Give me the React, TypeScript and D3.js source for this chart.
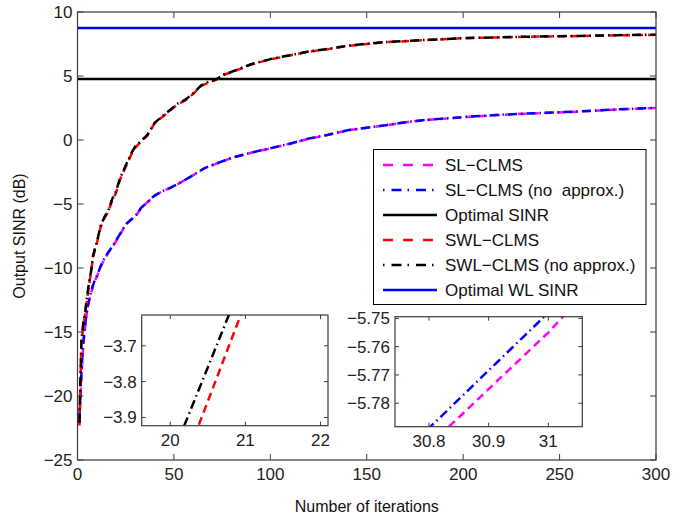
import React from 'react';
import * as d3 from 'd3';

const X_TICKS = [0, 50, 100, 150, 200, 250, 300];
const Y_TICKS = [-25, -20, -15, -10, -5, 0, 5, 10];

const SWL_X = [1,2,3,4,5,6,7,8,9,10,12,14,16,18,20,21,22,25,28,30,33,36,40,44,48,52,56,60,64,68,72,76,80,85,90,100,110,120,130,140,150,160,170,180,200,220,240,260,280,300];
const SWL_CLMS = [-22.3,-16.0,-14.5,-13.6,-12.4,-11.3,-10.4,-9.2,-8.6,-8.1,-6.8,-6.1,-5.6,-4.7,-4.13,-3.58,-3.1,-2.1,-1.1,-0.6,-0.1,0.3,1.3,1.8,2.3,2.8,3.1,3.6,4.2,4.5,4.7,5.1,5.3,5.6,5.9,6.3,6.6,6.9,7.1,7.35,7.5,7.65,7.72,7.8,7.95,8.02,8.08,8.12,8.18,8.22];
const SWL_CLMS_NA = [-22.1,-15.7,-14.3,-13.4,-12.2,-11.1,-10.3,-9.1,-8.5,-8.0,-6.7,-6.0,-5.5,-4.6,-4.02,-3.50,-3.0,-2.0,-1.0,-0.5,-0.05,0.35,1.35,1.85,2.35,2.85,3.15,3.65,4.25,4.55,4.75,5.12,5.33,5.62,5.92,6.32,6.62,6.92,7.12,7.36,7.52,7.66,7.73,7.81,7.96,8.03,8.09,8.13,8.19,8.23];

const SL_X = [1,2,3,4,5,6,7,8,9,10,12,14,16,18,20,22,25,28,30,31,33,36,40,44,48,52,56,60,66,72,80,90,100,110,120,130,140,150,160,170,180,200,220,240,260,280,300];
const SL_CLMS = [-22.0,-18.5,-16.0,-14.5,-13.3,-12.6,-12.0,-11.4,-11.0,-10.7,-9.9,-9.3,-8.8,-8.4,-7.9,-7.4,-6.6,-6.2,-5.955,-5.755,-5.3,-4.9,-4.35,-4.0,-3.75,-3.45,-3.1,-2.75,-2.2,-1.85,-1.4,-1.0,-0.65,-0.3,0.1,0.4,0.75,0.95,1.15,1.38,1.55,1.78,1.97,2.1,2.22,2.38,2.5];
const SL_CLMS_NA = [-21.7,-18.2,-15.8,-14.4,-13.2,-12.5,-11.9,-11.35,-10.95,-10.65,-9.85,-9.25,-8.75,-8.35,-7.85,-7.35,-6.58,-6.19,-5.952,-5.748,-5.29,-4.89,-4.34,-3.99,-3.74,-3.44,-3.09,-2.74,-2.19,-1.84,-1.39,-0.99,-0.64,-0.29,0.11,0.41,0.76,0.96,1.16,1.39,1.56,1.79,1.98,2.11,2.23,2.39,2.51];

const OPT_X = [0, 300];
const OPT_SINR = 4.77;
const OPT_WL_SINR = 8.75;

const INSET1_X_TICKS = [20, 21, 22];
const INSET1_Y_TICKS = [-3.9, -3.8, -3.7];
const INSET2_X_TICKS = [30.8, 30.9, 31];
const INSET2_Y_TICKS = [-5.78, -5.77, -5.76, -5.75];

const LEGEND = [
  'SL\u2212CLMS',
  'SL\u2212CLMS (no\u00a0 approx.)',
  'Optimal SINR',
  'SWL\u2212CLMS',
  'SWL\u2212CLMS (no approx.)',
  'Optimal WL SINR',
];

const FONT = '"Liberation Sans", Arial, Helvetica, sans-serif';
const AX = '#3a3a3a';

type Style = { color: string; width: number; dash?: string };
const STYLES: Style[] = [
  { color: '#ff00ff', width: 2.5, dash: '8 5' },
  { color: '#0000ff', width: 2.5, dash: '9 4 1.5 4' },
  { color: '#000000', width: 2.5 },
  { color: '#ff0000', width: 2.5, dash: '8 5' },
  { color: '#000000', width: 2.5, dash: '9 4 1.5 4' },
  { color: '#0000ff', width: 2.5 },
];

const minus = (s: string) => s.replace('-', '\u2212');

function Series({ xs, ys, x, y, st, clip }: any) {
  const line = d3.line<number>().x((_, i) => x(xs[i])).y((d) => y(d));
  return (
    <path d={line(ys) || ''} fill="none" stroke={st.color} strokeWidth={st.width}
      strokeDasharray={st.dash} clipPath={clip} />
  );
}

function Frame({ x, y, xt, yt, fmtX, fmtY, tl, fs, labelGap }: any) {
  const [x0, x1] = x.range();
  const [y0, y1] = y.range();
  return (
    <g>
      <rect x={x0} y={y1} width={x1 - x0} height={y0 - y1} fill="none" stroke={AX} strokeWidth={1.2} />
      {xt.map((t: number) => (
        <g key={'x' + t}>
          <line x1={x(t)} x2={x(t)} y1={y0} y2={y0 - tl} stroke={AX} />
          <line x1={x(t)} x2={x(t)} y1={y1} y2={y1 + tl} stroke={AX} />
          <text x={x(t)} y={y0 + labelGap} textAnchor="middle" fontSize={fs} fill="#222" dy="0.71em">{fmtX(t)}</text>
        </g>
      ))}
      {yt.map((t: number) => (
        <g key={'y' + t}>
          <line x1={x0} x2={x0 + tl} y1={y(t)} y2={y(t)} stroke={AX} />
          <line x1={x1} x2={x1 - tl} y1={y(t)} y2={y(t)} stroke={AX} />
          <text x={x0 - 5} y={y(t)} textAnchor="end" fontSize={fs} fill="#222" dy="0.35em">{fmtY(t)}</text>
        </g>
      ))}
    </g>
  );
}

export default function App() {
  const x = d3.scaleLinear().domain([0, 300]).range([77.5, 656]);
  const y = d3.scaleLinear().domain([-25, 10]).range([460, 12]);

  const x1 = d3.scaleLinear().domain([19.62, 22.1]).range([141.7, 328]);
  const y1 = d3.scaleLinear().domain([-3.923, -3.614]).range([425.7, 315]);
  const x2 = d3.scaleLinear().domain([30.743, 31.057]).range([395, 582.3]);
  const y2 = d3.scaleLinear().domain([-5.7883, -5.7494]).range([426.7, 316.7]);

  const all = (xx: any, yy: any, clip: string) => (
    <g>
      <Series xs={SL_X} ys={SL_CLMS} x={xx} y={yy} st={STYLES[0]} clip={clip} />
      <Series xs={SL_X} ys={SL_CLMS_NA} x={xx} y={yy} st={STYLES[1]} clip={clip} />
      <Series xs={SWL_X} ys={SWL_CLMS} x={xx} y={yy} st={STYLES[3]} clip={clip} />
      <Series xs={SWL_X} ys={SWL_CLMS_NA} x={xx} y={yy} st={STYLES[4]} clip={clip} />
    </g>
  );

  const legX = 373.5, legY = 149.5, legW = 272.5, legH = 155;

  return (
    <svg width={695} height={519} style={{ position: 'absolute', left: 0, top: 0, background: '#fff' }} fontFamily={FONT}>
      <defs>
        <clipPath id="cMain"><rect x={77.5} y={12} width={578.5} height={448} /></clipPath>
        <clipPath id="cIn1"><rect x={141.7} y={315} width={186.3} height={110.7} /></clipPath>
        <clipPath id="cIn2"><rect x={395} y={316.7} width={187.3} height={110} /></clipPath>
      </defs>
      <rect x={0} y={0} width={695} height={519} fill="#fff" />

      {/* main curves */}
      <Series xs={SL_X} ys={SL_CLMS} x={x} y={y} st={STYLES[0]} clip="url(#cMain)" />
      <Series xs={SL_X} ys={SL_CLMS_NA} x={x} y={y} st={STYLES[1]} clip="url(#cMain)" />
      <Series xs={OPT_X} ys={[OPT_SINR, OPT_SINR]} x={x} y={y} st={STYLES[2]} clip="url(#cMain)" />
      <Series xs={SWL_X} ys={SWL_CLMS} x={x} y={y} st={STYLES[3]} clip="url(#cMain)" />
      <Series xs={SWL_X} ys={SWL_CLMS_NA} x={x} y={y} st={STYLES[4]} clip="url(#cMain)" />
      <Series xs={OPT_X} ys={[OPT_WL_SINR, OPT_WL_SINR]} x={x} y={y} st={STYLES[5]} clip="url(#cMain)" />

      <Frame x={x} y={y} xt={X_TICKS} yt={Y_TICKS} fmtX={(t: number) => minus(String(t))} fmtY={(t: number) => minus(String(t))} tl={6} fs={17} labelGap={8} />

      {/* legend */}
      <rect x={legX} y={legY} width={legW} height={legH} fill="#fff" stroke="#000" strokeWidth={1} />
      {LEGEND.map((lab, i) => {
        const yy = 165 + i * 25;
        const st = STYLES[i];
        return (
          <g key={lab}>
            <line x1={383} x2={437} y1={yy} y2={yy} stroke={st.color} strokeWidth={st.width}
              strokeDasharray={st.dash ? (st.dash.split(' ').length > 2 ? '1.5 7 10 6' : '10 10') : undefined} />
            <text x={445} y={yy} dy="0.35em" fontSize={17} fill="#111">{lab}</text>
          </g>
        );
      })}

      {/* inset 1 */}
      <rect x={141.7} y={315} width={186.3} height={110.7} fill="#fff" />
      {all(x1, y1, 'url(#cIn1)')}
      <Frame x={x1} y={y1} xt={INSET1_X_TICKS} yt={INSET1_Y_TICKS} fmtX={(t: number) => String(t)} fmtY={(t: number) => minus(d3.format('.1f')(t))} tl={4} fs={17} labelGap={8} />

      {/* inset 2 */}
      <rect x={395} y={316.7} width={187.3} height={110} fill="#fff" />
      {all(x2, y2, 'url(#cIn2)')}
      <Frame x={x2} y={y2} xt={INSET2_X_TICKS} yt={INSET2_Y_TICKS} fmtX={(t: number) => String(t)} fmtY={(t: number) => minus(d3.format('.2f')(t))} tl={4} fs={17} labelGap={8} />

      {/* axis titles */}
      <text x={366.8} y={512} textAnchor="middle" fontSize={16} fill="#111">Number of iterations</text>
      <text transform="translate(25,236) rotate(-90)" textAnchor="middle" fontSize={16} fill="#111">Output SINR (dB)</text>
    </svg>
  );
}
